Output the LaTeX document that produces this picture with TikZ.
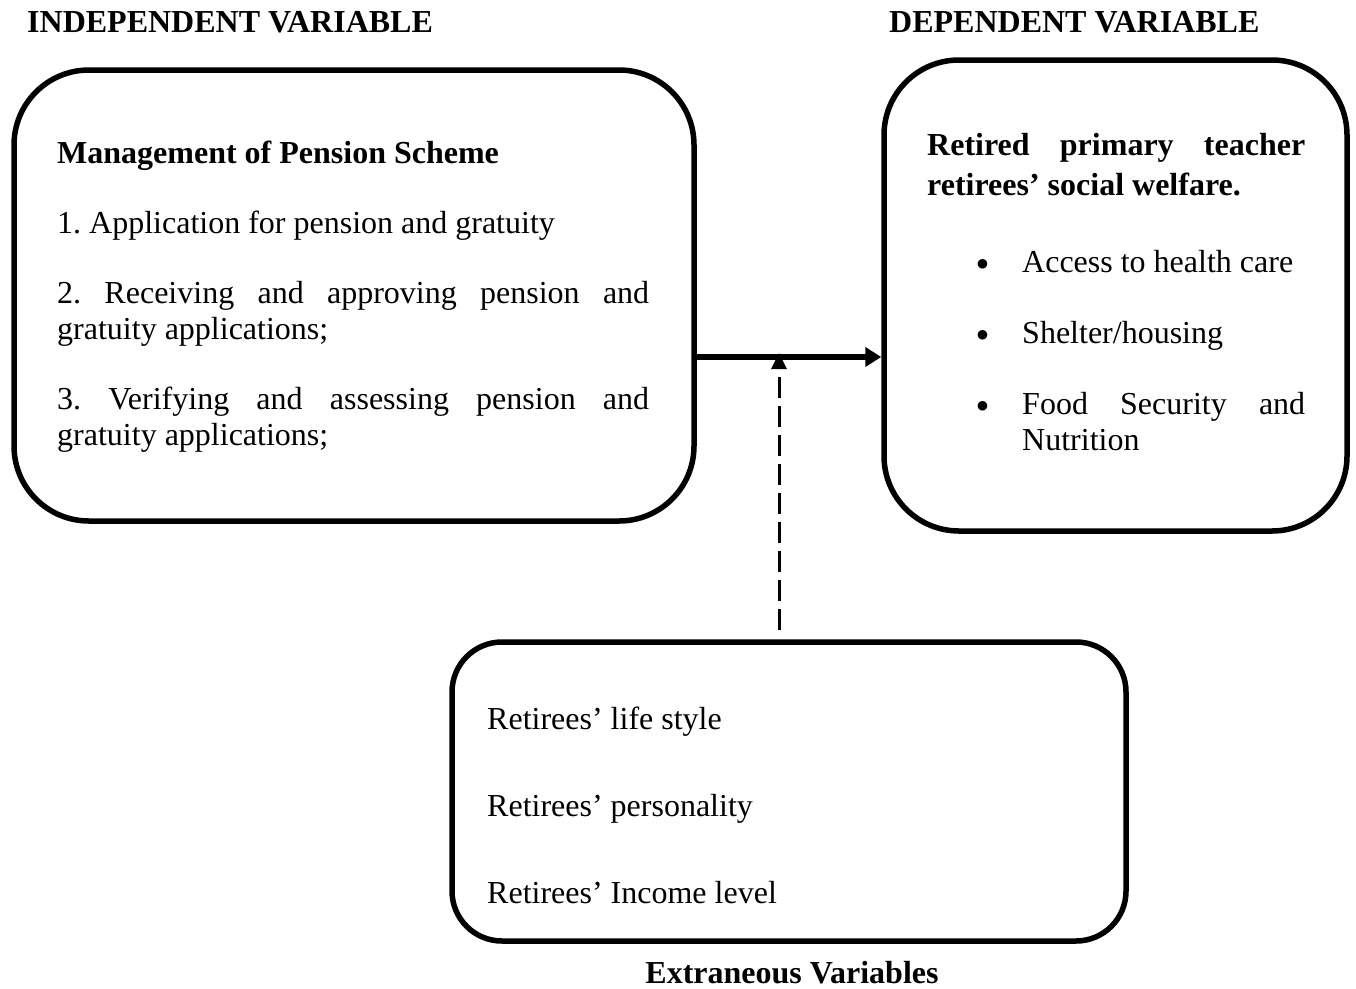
\documentclass[tikz,border=0pt]{standalone}
\usepackage{fontspec}
\setmainfont{Liberation Serif}
\usetikzlibrary{arrows.meta,positioning}

\newcommand\bodysize{\fontsize{32}{36}\selectfont}
\newcommand\dotitem{\par\leavevmode\llap{\raisebox{2pt}{\fontsize{57}{57}\selectfont$\bullet$}\hspace{33.5pt}}}

\tikzset{
	roundbox/.style={draw, line width=5.5pt, rounded corners=#1, inner sep=0pt},
	roundbox/.default=75pt,
	txt/.style={anchor=base west, inner sep=0pt, font=\bodysize},
	head/.style={anchor=base west, inner sep=0pt, font=\bodysize\bfseries},
	para/.style={txt, align=justify, text width=#1}
}

\begin{document}
\begin{tikzpicture}[x=1pt, y=-1pt, >={Triangle[length=16pt,width=19pt]}]
	\useasboundingbox (0,0) rectangle (1356,988);

	\node[roundbox, minimum width=680pt, minimum height=451pt] (pension) at (354,295.5) {};
	\node[roundbox, minimum width=463pt, minimum height=471pt] (welfare) at (1115.5,295.5) {};
	\node[roundbox=50pt, minimum width=674pt, minimum height=299pt] (extra) at (789,791.5) {};

	\node[head] (indep) at (27,32) {INDEPENDENT VARIABLE};
	\node[head] (dep) at (889,32) {DEPENDENT VARIABLE};
	\node[head, anchor=base] (extrahead) at (792,983) {Extraneous Variables};

	\node[para=592pt] (pensiontext) at (57,163) {%
		\frenchspacing\hyphenpenalty=10000 \tolerance=10000 \parskip=34pt
		{\bfseries Management of Pension Scheme}\par
		1. Application for pension and gratuity\par
		2. Receiving and approving pension and gratuity applications;\par
		3. Verifying and assessing pension and\linebreak gratuity applications;\par};

	\node[para=378pt] (welfaretext) at (927,155) {%
		\frenchspacing\hyphenpenalty=10000 \tolerance=10000 \parskip=35pt
		{\fontsize{32}{40}\selectfont\bfseries Retired primary teacher retirees’ social welfare.\par}
		\vspace{6pt}\leftskip=95pt
		\dotitem Access to health care
		\dotitem Shelter/housing
		\dotitem Food Security and Nutrition\par};

	\foreach \t [count=\i] in {Retirees’ life style, Retirees’ personality, Retirees’ Income level}
		\node[txt] (extra\i) at (487,642+87*\i) {\t};

	\coordinate (mid) at (779,357);
	\coordinate (foot) at (779,630);
	\draw[->, line width=5.5pt] (pension.east |- mid) -- (welfare.west |- mid);
	\draw[-{Triangle[length=16pt,width=15pt]}, line width=3pt, dash pattern=on 21pt off 8pt]
		(foot) -- ([yshift=4pt]mid);
\end{tikzpicture}
\end{document}
